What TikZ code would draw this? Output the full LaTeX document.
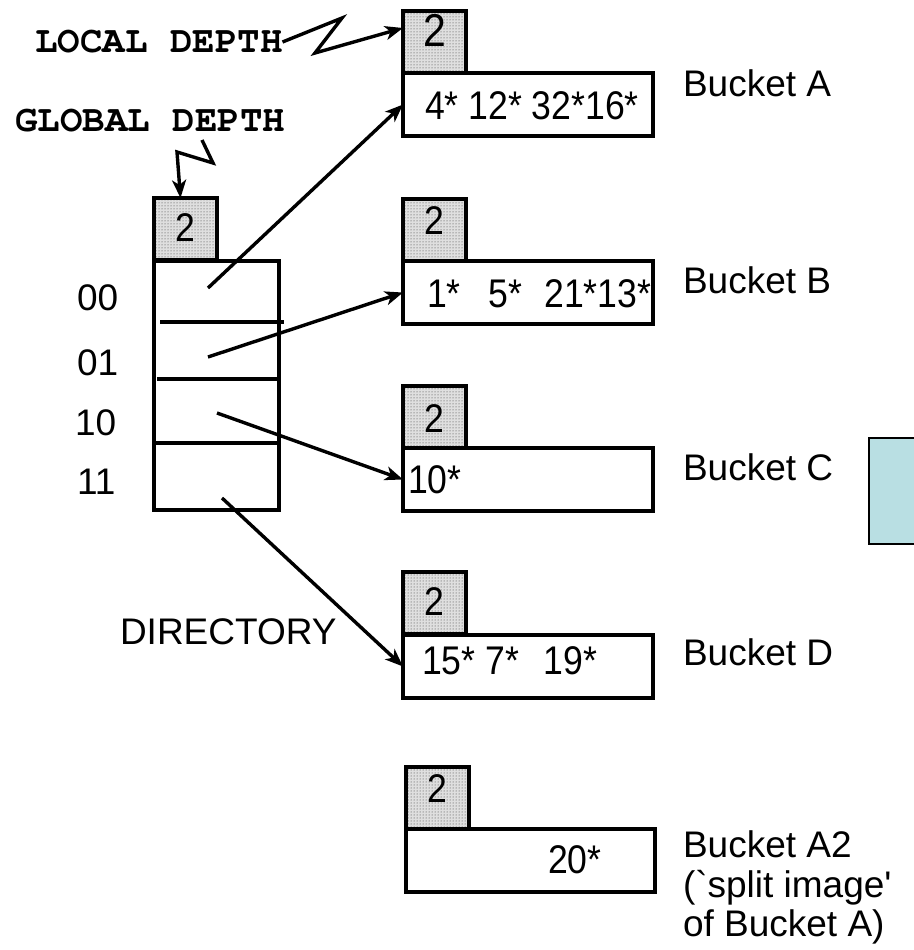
\documentclass[tikz,border=0pt]{standalone}
\usepackage{fontspec}
\setmainfont{Liberation Sans}
\newfontfamily\monofont{texgyrecursor}[Extension=.otf, UprightFont=*-regular, BoldFont=*-bold]
\usetikzlibrary{arrows.meta,patterns}
\definecolor{sideteal}{HTML}{B9DFE3}
\newcommand{\dig}[1]{\scalebox{0.89}[1]{\fontsize{40}{40}\selectfont #1}}
\newcommand{\monolab}[1]{\scalebox{1}[1.0]{\monofont\bfseries\fontsize{37.5}{37.5}\selectfont #1}}
\begin{document}
\begin{tikzpicture}[x=1pt,y=-1pt,
  lw/.style={line width=3.4pt},
  box/.style={draw, lw, inner sep=0pt, outer sep=0pt, anchor=north west},
  depthbox/.style={box, minimum width=63pt, minimum height=62pt, preaction={fill=gray!25}, pattern=dots, pattern color=black!80},
  databox/.style={box, minimum width=250pt, minimum height=63pt, fill=white},
  txt/.style={inner sep=0pt, outer sep=0pt, font=\fontsize{37}{37}\selectfont},
  num/.style={inner sep=0pt, outer sep=0pt},
  arr/.style={lw, -{Stealth[length=18pt,width=14pt,inset=5pt]}},
]
\useasboundingbox (0,0) rectangle (913,950);
\fill[white] (0,0) rectangle (913,950);

% side box (cut off at right edge)
\node[box, fill=sideteal, line width=2.8pt, minimum width=70pt, minimum height=106pt] (side) at (869,438) {};

% labels
\node[inner sep=0pt, outer sep=0pt, anchor=west] (ld) at (35,42) {\monolab{LOCAL DEPTH}};
\node[inner sep=0pt, outer sep=0pt, anchor=west] (gd) at (15,121) {\monolab{GLOBAL DEPTH}};

% directory
\node[depthbox] (dd) at (154,198) {};
\node[box, minimum width=125pt, minimum height=249pt] (dir) at (154,261) {};
\node[num] (ddn) at (185.5,228) {\dig{2}};
\draw[lw] (160,322) -- (284,322);
\draw[lw] (157,379) -- (281,379);
\draw[lw] (154,443) -- (280,443);
\node[txt, anchor=west] (l00) at (77,298) {00};
\node[txt, anchor=west] (l01) at (77,363) {01};
\node[txt, anchor=west] (l10) at (75,423) {10};
\node[txt, anchor=west] (l11) at (77,482) {11};
\node[txt, anchor=west] (dirlab) at (120,632) {DIRECTORY};

% bucket A
\node[depthbox] (dA) at (403,11) {};
\node[databox] (bA) at (403,73) {};
\node[num] (dAn) at (434.5,30) {\scalebox{1.15}{\dig{2}}};
\node[num, anchor=west] (tA) at (425,106) {\dig{4* 12* 32*16*}};
\node[txt, anchor=west] (labA) at (683,83) {Bucket A};

% bucket B
\node[depthbox] (dB) at (403,199) {};
\node[databox] (bB) at (403,261) {};
\node[num] (dBn) at (434.5,221) {\dig{2}};
\node[num, anchor=west] (tB) at (427,294) {\dig{1*\hspace{20pt} 5*\hspace{14pt} 21*13*}};
\node[txt, anchor=west] (labB) at (683,280) {Bucket B};

% bucket C
\node[depthbox] (dC) at (403,386) {};
\node[databox] (bC) at (403,448) {};
\node[num] (dCn) at (434.5,419) {\dig{2}};
\node[num, anchor=west] (tC) at (408,480) {\dig{10*}};
\node[txt, anchor=west] (labC) at (683,467) {Bucket C};

% bucket D
\node[depthbox] (dD) at (403,572) {};
\node[databox] (bD) at (403,635) {};
\node[num] (dDn) at (434.5,602) {\dig{2}};
\node[num, anchor=west] (tD) at (422,661) {\dig{15* 7*\hspace{17pt} 19*}};
\node[txt, anchor=west] (labD) at (683,652) {Bucket D};

% bucket A2
\node[depthbox] (dA2) at (406,767) {};
\node[databox, minimum width=249pt] (bA2) at (406,829) {};
\node[num] (dA2n) at (437,789) {\dig{2}};
\node[num, anchor=west] (tA2) at (548,860) {\dig{20*}};
\node[txt, anchor=base west] (labA2a) at (683,857) {Bucket A2};
\node[txt, anchor=base west] (labA2b) at (683,897) {(\textasciigrave split image\textquotesingle};
\node[txt, anchor=base west] (labA2c) at (683,936) {of Bucket A)};

% pointers
\coordinate (p00) at (208,288);
\coordinate (p01) at (208,357);
\coordinate (p10) at (217,413);
\coordinate (p11) at (222,498);
\draw[arr] (p00) -- (bA.west);
\draw[arr] (p01) -- (bB.west);
\draw[arr] (p10) -- (bC.west);
\draw[arr] (p11) -- (bD.west);

% depth zigzags
\draw[arr] (ld.east) -- (342,18) -- (315,53) -- ([yshift=14pt]dA.west);
\coordinate (gz) at (202,140);
\draw[arr] (gz) -- (213,163) -- (177,152) -- ([xshift=-5pt]dd.north);
\end{tikzpicture}
\end{document}
